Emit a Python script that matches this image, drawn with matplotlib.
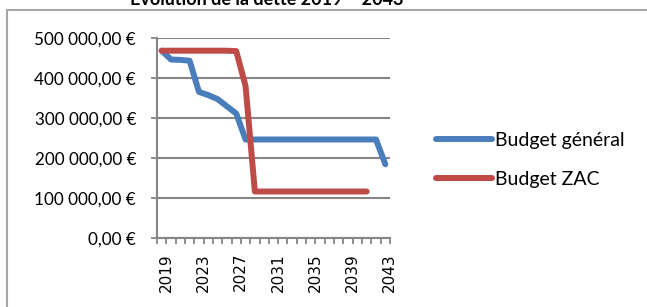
import matplotlib
matplotlib.use("Agg")
import matplotlib.pyplot as plt
import matplotlib.transforms as mtransforms
from matplotlib.patches import Rectangle

years = list(range(2019, 2044))
budget_general = [469000, 447000, 446000, 444000, 366000, 358000, 348000, 330000, 312000,
                  247000, 247000, 247000, 247000, 247000, 247000, 247000, 247000, 247000,
                  247000, 247000, 247000, 247000, 247000, 247000, 185000]
budget_zac = [469000, 469000, 469000, 469000, 469000, 469000, 469000, 469000, 468000,
              381000, 117000, 117000, 117000, 117000, 117000, 117000, 117000, 117000,
              117000, 117000, 117000, 117000, 117000]
yticks = [0, 100000, 200000, 300000, 400000, 500000]
ytick_labels = ["0,00 €", "100 000,00 €", "200 000,00 €", "300 000,00 €", "400 000,00 €", "500 000,00 €"]

blue = "#4A7EBB"
red = "#BE4B48"
grey = "#868686"

fig = plt.figure(figsize=(6.47, 3.07), dpi=100)
fig.patch.set_facecolor("white")

# chart area frame (cut by the image edges)
fig.patches.append(Rectangle((7 / 647, -0.1), 1.2, 1 - 10 / 307 + 0.1, transform=fig.transFigure,
                             fill=False, edgecolor="#A6A6A6", lw=1.5, zorder=0))

fig.text(267 / 647, 1 - 5 / 307, "Evolution de la dette 2019 – 2043", ha="center", va="baseline",
         fontsize=13, fontweight="bold", family="Lato")

ax = fig.add_axes([157 / 647, 1 - 238.3 / 307, (390 - 157) / 647, 200 / 307])
x = list(range(len(years)))
ax.plot(x, budget_general, color=blue, lw=4.3, solid_capstyle="round", solid_joinstyle="round",
        label="Budget général", zorder=3)
ax.plot(x[:len(budget_zac)], budget_zac, color=red, lw=4.3, solid_capstyle="round",
        solid_joinstyle="round", label="Budget ZAC", zorder=3)

ax.set_xlim(-0.5, len(years) - 0.5)
ax.set_ylim(0, 500000)
ax.set_yticks(yticks)
ax.set_yticklabels(ytick_labels, family="Lato", fontsize=12.3)
ax.yaxis.grid(True, color=grey, lw=1.5)
ax.set_axisbelow(True)

ax.set_xticks(x[::4])
ax.set_xticklabels([str(y) for y in years[::4]], rotation=90, fontsize=11, family="DejaVu Sans")
ax.set_xticks([i - 0.5 for i in range(len(years) + 1)], minor=True)
ax.tick_params(axis="x", which="major", length=0, pad=10.5)
ax.tick_params(axis="x", which="minor", length=4.5, width=1.3, color=grey, direction="out")
ax.tick_params(axis="y", length=4, width=1.3, color=grey, pad=11)

offset = mtransforms.ScaledTranslation(4.5 / 100, 0, fig.dpi_scale_trans)
for lab in ax.get_xticklabels():
    lab.set_transform(lab.get_transform() + offset)

for s in ["top", "right"]:
    ax.spines[s].set_visible(False)
for s in ["left", "bottom"]:
    ax.spines[s].set_color(grey)
    ax.spines[s].set_linewidth(1.5)

fig.legend(loc="center left", bbox_to_anchor=(428 / 647, 1 - 160 / 307), frameon=False,
           prop={"family": "Lato", "size": 14}, handlelength=2.9, handletextpad=0.15,
           labelspacing=1.15, borderaxespad=0)

fig.savefig("out.png", dpi=100)
